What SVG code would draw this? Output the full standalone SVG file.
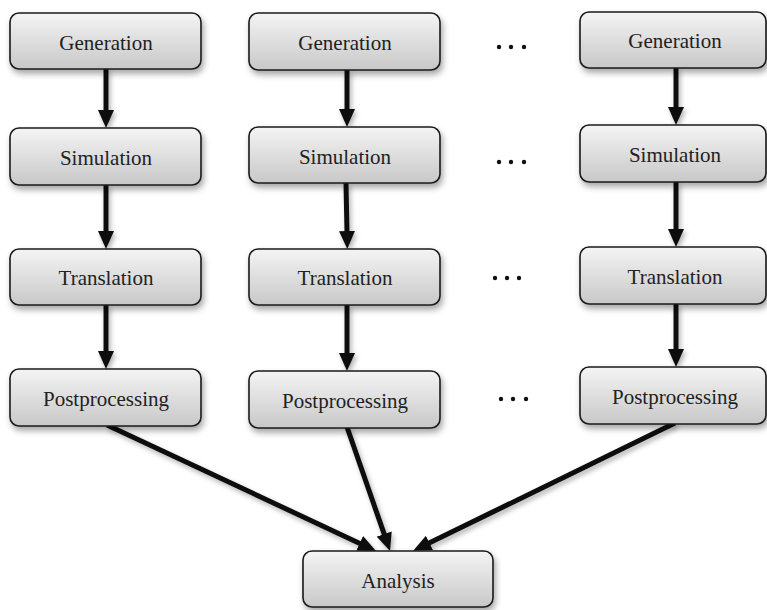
<svg xmlns="http://www.w3.org/2000/svg" width="767" height="610" viewBox="0 0 767 610">
<defs>
<linearGradient id="g" x1="0" y1="0" x2="0" y2="1">
<stop offset="0" stop-color="#f4f4f4"/>
<stop offset="1" stop-color="#c8c8c8"/>
</linearGradient>
<filter id="sh" x="-10%" y="-20%" width="130%" height="160%">
<feDropShadow dx="2" dy="4" stdDeviation="3" flood-color="#000" flood-opacity="0.35"/>
</filter>
<filter id="lsh" filterUnits="userSpaceOnUse" x="0" y="0" width="767" height="610">
<feDropShadow dx="2" dy="3" stdDeviation="2.5" flood-color="#000" flood-opacity="0.3"/>
</filter>
<marker id="ah" markerUnits="userSpaceOnUse" markerWidth="18" markerHeight="16" refX="2" refY="8" orient="auto">
<path d="M0,0 L18,8 L0,16 z" fill="#111"/>
</marker>
<style>
.box rect{fill:url(#g);stroke:#1a1a1a;stroke-width:1.6;filter:url(#sh)}
.box text{font-family:"Liberation Serif","Times New Roman",serif;font-size:21px;fill:#222;text-anchor:middle}
#connectors{filter:url(#lsh)}
#connectors line{stroke:#111;stroke-width:5;marker-end:url(#ah)}
.dots circle{fill:#111}
</style>
</defs>
<g id="connectors">
<line x1="106" y1="69" x2="106" y2="112"/>
<line x1="106" y1="185" x2="106" y2="233"/>
<line x1="106" y1="305" x2="106" y2="353"/>
<line x1="347" y1="70" x2="347" y2="111"/>
<line x1="346" y1="183" x2="347" y2="233"/>
<line x1="347" y1="305" x2="347" y2="355"/>
<line x1="676" y1="68" x2="676" y2="109"/>
<line x1="676" y1="182" x2="676" y2="231"/>
<line x1="676" y1="304" x2="676" y2="351"/>
<line x1="107" y1="425" x2="361.5" y2="544.2"/>
<line x1="347" y1="427" x2="384.8" y2="535.9"/>
<line x1="675" y1="423" x2="427.6" y2="543.8"/>
</g>
<g id="gen1" class="box"><rect x="10" y="13" width="191" height="56" rx="9"/><text x="106" y="50">Generation</text></g>
<g id="sim1" class="box"><rect x="10" y="128" width="191" height="57" rx="9"/><text x="106" y="165">Simulation</text></g>
<g id="tra1" class="box"><rect x="10" y="249" width="191" height="56" rx="9"/><text x="106" y="285">Translation</text></g>
<g id="pos1" class="box"><rect x="10" y="369" width="191" height="57" rx="9"/><text x="106" y="406">Postprocessing</text></g>
<g id="gen2" class="box"><rect x="249" y="13" width="191" height="57" rx="9"/><text x="345" y="50">Generation</text></g>
<g id="sim2" class="box"><rect x="249" y="127" width="191" height="56" rx="9"/><text x="345" y="164">Simulation</text></g>
<g id="tra2" class="box"><rect x="249" y="249" width="191" height="56" rx="9"/><text x="345" y="285">Translation</text></g>
<g id="pos2" class="box"><rect x="249" y="371" width="191" height="57" rx="9"/><text x="345" y="408">Postprocessing</text></g>
<g id="gen3" class="box"><rect x="580" y="12" width="186" height="56" rx="9"/><text x="675" y="48">Generation</text></g>
<g id="sim3" class="box"><rect x="580" y="125" width="186" height="57" rx="9"/><text x="675" y="162">Simulation</text></g>
<g id="tra3" class="box"><rect x="580" y="247" width="186" height="57" rx="9"/><text x="675" y="284">Translation</text></g>
<g id="pos3" class="box"><rect x="580" y="367" width="186" height="57" rx="9"/><text x="675" y="404">Postprocessing</text></g>
<g id="analysis" class="box"><rect x="303" y="551" width="190" height="56" rx="9"/><text x="398" y="588">Analysis</text></g>
<g class="dots">
<circle cx="499" cy="47" r="2.2"/><circle cx="511" cy="47" r="2.2"/><circle cx="524" cy="47" r="2.2"/>
<circle cx="499" cy="162" r="2.2"/><circle cx="511" cy="162" r="2.2"/><circle cx="524" cy="162" r="2.2"/>
<circle cx="495" cy="278" r="2.2"/><circle cx="507" cy="278" r="2.2"/><circle cx="519" cy="278" r="2.2"/>
<circle cx="501" cy="399" r="2.2"/><circle cx="513" cy="399" r="2.2"/><circle cx="526" cy="399" r="2.2"/>
</g>
</svg>
